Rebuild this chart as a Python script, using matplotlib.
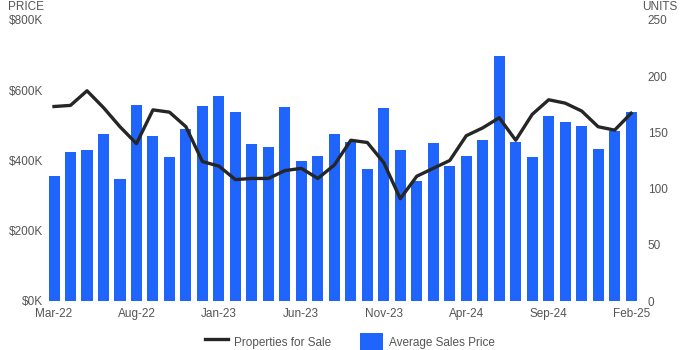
import numpy as np
import matplotlib.pyplot as plt
from matplotlib.ticker import FuncFormatter
from matplotlib.lines import Line2D
from matplotlib.patches import Patch

plt.rcParams['font.family'] = ['Liberation Sans', 'DejaVu Sans']

# Monthly data, Mar-22 .. Feb-25
months = ['Mar-22', 'Apr-22', 'May-22', 'Jun-22', 'Jul-22', 'Aug-22', 'Sep-22', 'Oct-22',
          'Nov-22', 'Dec-22', 'Jan-23', 'Feb-23', 'Mar-23', 'Apr-23', 'May-23', 'Jun-23',
          'Jul-23', 'Aug-23', 'Sep-23', 'Oct-23', 'Nov-23', 'Dec-23', 'Jan-24', 'Feb-24',
          'Mar-24', 'Apr-24', 'May-24', 'Jun-24', 'Jul-24', 'Aug-24', 'Sep-24', 'Oct-24',
          'Nov-24', 'Dec-24', 'Jan-25', 'Feb-25']

# Average sales price ($K)
avg_price = [356, 425, 431, 475, 348, 558, 470, 410, 490, 555, 584, 538,
             447, 438, 552, 399, 413, 475, 453, 376, 550, 430, 342, 450,
             384, 413, 458, 696, 453, 410, 527, 510, 498, 433, 484, 538]

# Properties for sale (units)
for_sale = [173, 174, 187, 172, 155, 140, 170, 168, 155, 124, 120, 108,
            109, 109, 116, 118, 109, 121, 143, 141, 123, 91, 111, 118,
            125, 147, 154, 163, 143, 166, 179, 176, 169, 155, 152, 167]

BLUE = '#1f64fb'
LINE = '#262626'
TXT = '#555555'

x = np.arange(len(months))

fig = plt.figure(figsize=(7, 3.5), dpi=100)
ax = fig.add_axes([0.0654, 0.14, 0.848, 0.803])
ax.bar(x, avg_price, width=0.67, color=BLUE, zorder=2)
ax.set_ylim(0, 800)
ax.set_xlim(-0.5, len(months) - 0.5)
ax.set_yticks([0, 200, 400, 600, 800])
ax.yaxis.set_major_formatter(FuncFormatter(lambda v, p: f'${int(v)}K'))

ax2 = ax.twinx()
ax2.plot(x, for_sale, color=LINE, lw=2.4, zorder=3)
ax2.set_ylim(0, 250)
ax2.set_yticks([0, 50, 100, 150, 200, 250])

ax.set_xticks(x[::5])
ax.set_xticklabels(months[::5])

for a in (ax, ax2):
    for s in a.spines.values():
        s.set_visible(False)
    a.tick_params(length=0, labelsize=8.5, labelcolor=TXT)
ax.tick_params(axis='y', pad=2)
ax2.tick_params(axis='y', pad=6)
ax.tick_params(axis='x', pad=5)

fig.text(0.011, 0.998, 'PRICE', color=TXT, fontsize=8.5, va='top', ha='left')
fig.text(0.918, 0.998, 'UNITS', color=TXT, fontsize=8.5, va='top', ha='left')

handles = [Line2D([0], [0], color=LINE, lw=2.4),
           Patch(facecolor=BLUE)]
fig.legend(handles, ['Properties for Sale', 'Average Sales Price'],
           loc='lower center', bbox_to_anchor=(0.5, -0.033), ncol=2, frameon=False,
           fontsize=8.5, labelcolor=TXT, handlelength=2.0, handleheight=2.0,
           handletextpad=0.5, columnspacing=2.4)

fig.savefig('out.png', dpi=100)
